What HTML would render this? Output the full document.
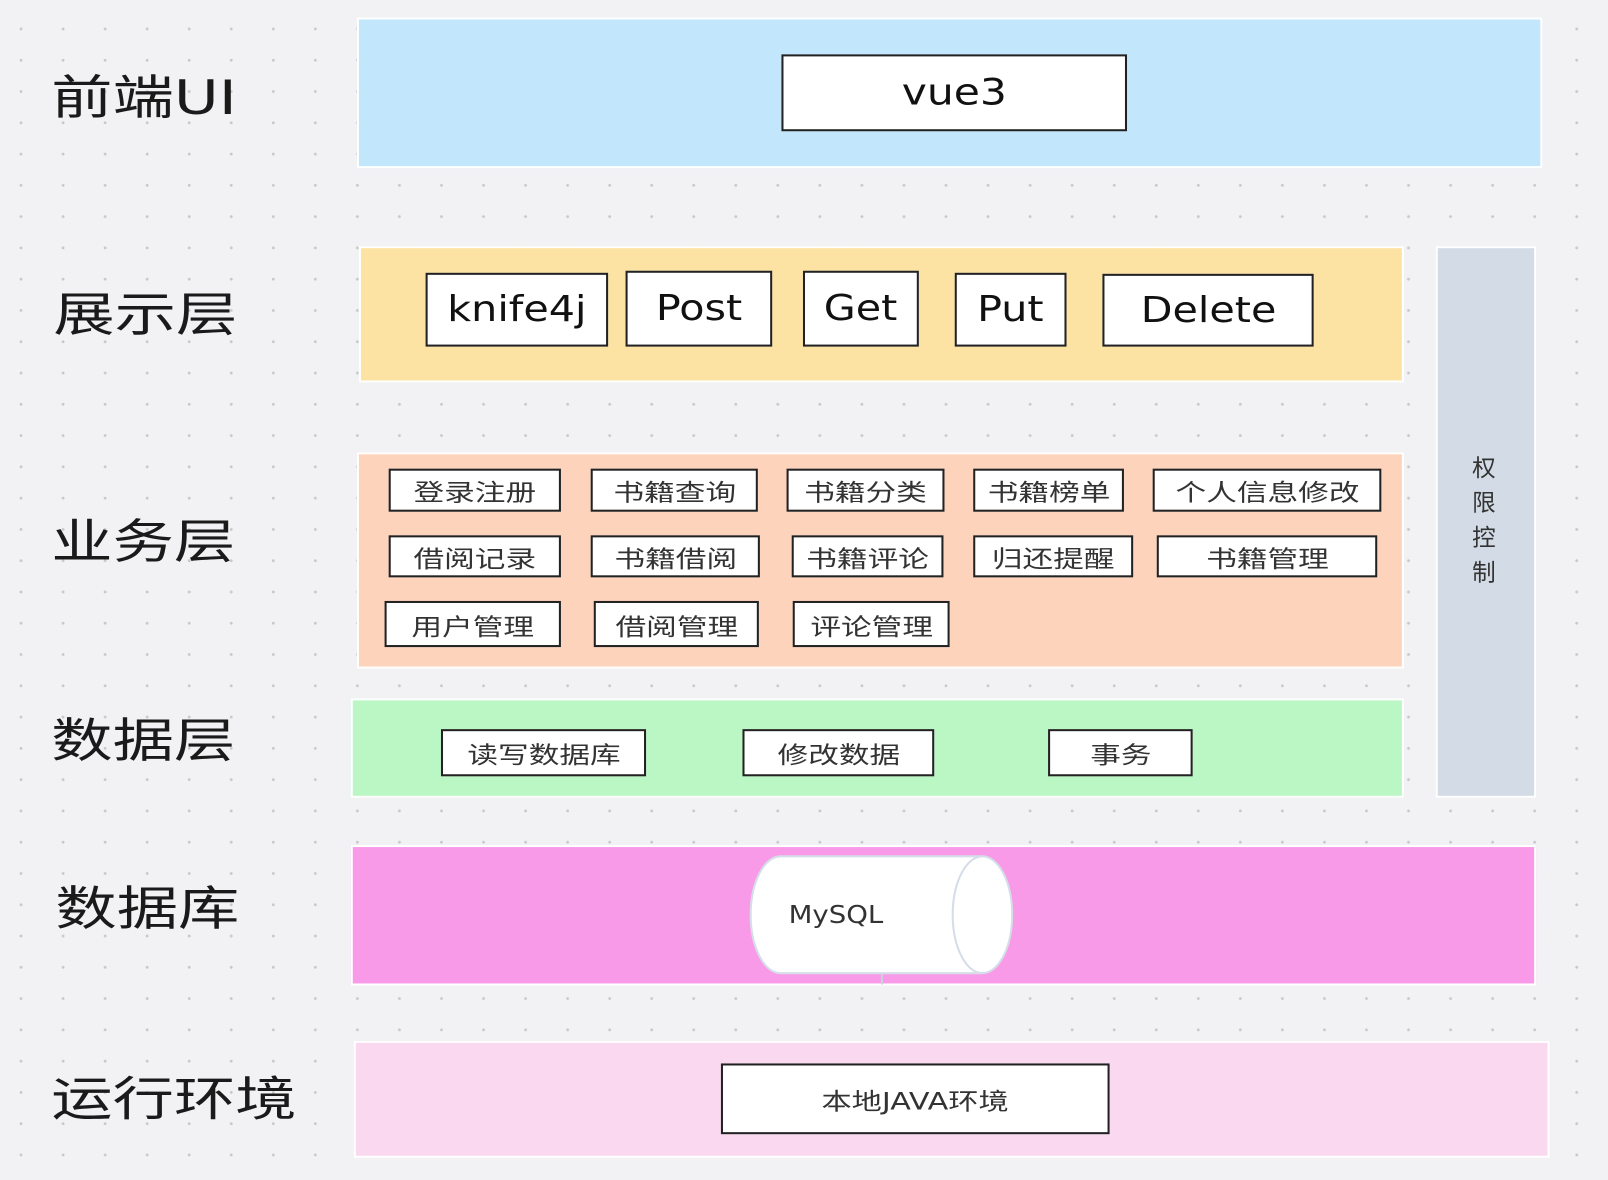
<!DOCTYPE html>
<html><head><meta charset="utf-8"><style>
html,body{margin:0;padding:0;width:1608px;height:1180px;overflow:hidden;background:#f2f2f4;}
#c{position:absolute;left:0;top:0;width:1568px;height:1151px;transform:scale(1.0255);transform-origin:0 0;
background-image:radial-gradient(circle,#c8c8cc 1.2px,transparent 1.6px);background-size:41px 30.5px;background-position:0px 13px;
font-family:"DejaVu Sans","Noto Sans CJK SC",sans-serif;color:#222;}
.a{position:absolute;box-sizing:border-box;}
.L{position:absolute;font-size:46px;line-height:1;white-space:nowrap;color:#1a1a1a;transform:scaleX(1.3);transform-origin:0 0;}
.p{border:2px solid #fff;}
.b{position:absolute;box-sizing:border-box;background:#fff;border:2px solid #222;display:flex;align-items:center;justify-content:center;white-space:nowrap;}
.b span,.t{display:inline-block;}
.s{font-size:23px;color:#333;}
.s span{transform:scaleX(1.3);}
.m{font-size:35px;color:#111;}
.m span{transform:scaleX(1.15);}
</style></head><body><div id="c">
<div class="L" style="left:50px;top:72px">前端UI</div>
<div class="L" style="left:52px;top:284px">展示层</div>
<div class="L" style="left:50px;top:505px">业务层</div>
<div class="L" style="left:50px;top:699px">数据层</div>
<div class="L" style="left:54px;top:863px">数据库</div>
<div class="L" style="left:50px;top:1049px">运行环境</div>

<div class="a p" style="left:348px;top:17px;width:1156px;height:147px;background:#c2e7fd"></div>
<div class="b m" style="left:762px;top:53px;width:337px;height:75px;font-size:36px"><span>vue3</span></div>

<div class="a p" style="left:350px;top:240px;width:1019px;height:133px;background:#fde3a3"></div>
<div class="b m" style="left:415px;top:266px;width:178px;height:72px"><span>knife4j</span></div>
<div class="b m" style="left:610px;top:264px;width:143px;height:74px"><span>Post</span></div>
<div class="b m" style="left:783px;top:264px;width:113px;height:74px"><span>Get</span></div>
<div class="b m" style="left:931px;top:266px;width:109px;height:72px"><span>Put</span></div>
<div class="b m" style="left:1075px;top:267px;width:206px;height:71px"><span>Delete</span></div>

<div class="a p" style="left:348px;top:441px;width:1021px;height:211px;background:#fdd3bc"></div>
<div class="b s" style="left:379px;top:457px;width:168px;height:42px"><span>登录注册</span></div>
<div class="b s" style="left:576px;top:457px;width:163px;height:42px"><span>书籍查询</span></div>
<div class="b s" style="left:767px;top:457px;width:154px;height:42px"><span>书籍分类</span></div>
<div class="b s" style="left:949px;top:457px;width:147px;height:42px"><span>书籍榜单</span></div>
<div class="b s" style="left:1124px;top:457px;width:223px;height:42px"><span>个人信息修改</span></div>
<div class="b s" style="left:379px;top:522px;width:168px;height:41px"><span>借阅记录</span></div>
<div class="b s" style="left:576px;top:522px;width:165px;height:41px"><span>书籍借阅</span></div>
<div class="b s" style="left:772px;top:522px;width:148px;height:41px"><span>书籍评论</span></div>
<div class="b s" style="left:949px;top:522px;width:156px;height:41px"><span>归还提醒</span></div>
<div class="b s" style="left:1128px;top:522px;width:215px;height:41px"><span>书籍管理</span></div>
<div class="b s" style="left:375px;top:586px;width:172px;height:45px"><span>用户管理</span></div>
<div class="b s" style="left:579px;top:586px;width:161px;height:45px"><span>借阅管理</span></div>
<div class="b s" style="left:773px;top:586px;width:153px;height:45px"><span>评论管理</span></div>

<div class="a p" style="left:342px;top:681px;width:1027px;height:97px;background:#baf7c4"></div>
<div class="b s" style="left:430px;top:711px;width:200px;height:46px"><span>读写数据库</span></div>
<div class="b s" style="left:724px;top:711px;width:187px;height:46px"><span>修改数据</span></div>
<div class="b s" style="left:1022px;top:711px;width:141px;height:46px"><span>事务</span></div>

<div class="a p" style="left:1400px;top:240px;width:98px;height:538px;background:#d3dce6"></div>
<div class="a" style="left:1398px;top:440px;width:98px;text-align:center;font-size:23px;line-height:34px;color:#333">权<br>限<br>控<br>制</div>

<div class="a p" style="left:342px;top:824px;width:1156px;height:137px;background:#f99ae8"></div>
<div class="a" style="left:859px;top:945px;width:2px;height:15px;background:#c9d2dc"></div>
<svg class="a" style="left:728px;top:832px" width="266" height="122">
<path d="M33,3 H228 A29,57 0 0 1 228,117 H33 A29,57 0 0 1 33,3 Z" fill="#fff" stroke="#d5dde8" stroke-width="2"/>
<ellipse cx="230" cy="60" rx="29" ry="57" fill="#fff" stroke="#d5dde8" stroke-width="2"/>
</svg>
<div class="a" style="left:769px;top:878px;font-size:24px;color:#333;transform:scaleX(1.12);transform-origin:0 0">MySQL</div>

<div class="a p" style="left:345px;top:1015px;width:1166px;height:114px;background:#f9d8f0"></div>
<div class="b" style="left:703px;top:1037px;width:379px;height:69px;font-size:23px;color:#333"><span style="transform:scaleX(1.28)">本地JAVA环境</span></div>
</div></body></html>
